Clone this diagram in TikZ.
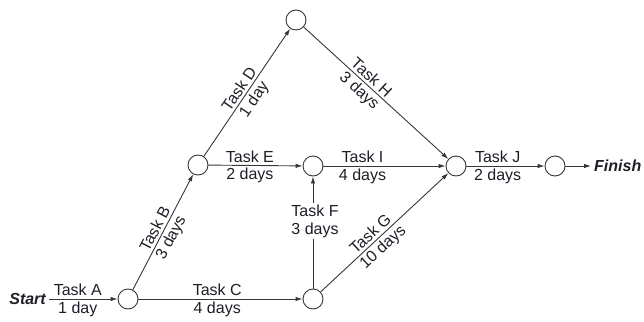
\documentclass[tikz,border=0pt]{standalone}
\usepackage{fontspec}
\setmainfont{Liberation Sans}
\usetikzlibrary{arrows.meta}
\definecolor{linec}{RGB}{55,55,58}
\definecolor{textc}{RGB}{30,30,40}
\begin{document}
\begin{tikzpicture}[x=1pt,y=-1pt,
  every node/.style={text=textc,font=\fontsize{16}{18}\selectfont},
  ev/.style={circle,draw=linec,fill=white,minimum size=20pt,inner sep=0pt,line width=0.9pt},
  arr/.style={draw=linec,line width=0.9pt,-{Latex[length=7pt,width=4.5pt]}},
  up/.style={above,inner sep=2.5pt},
  dn/.style={below,inner sep=2.5pt},
  endlab/.style={font=\fontsize{16}{18}\selectfont\bfseries\itshape,inner sep=3pt}]
\useasboundingbox (0,0) rectangle (644,321);
\node[ev] (n1) at (128,299) {};
\node[ev] (n2) at (198,165) {};
\node[ev] (n3) at (296,20) {};
\node[ev] (n4) at (313,166) {};
\node[ev] (n5) at (456,166) {};
\node[ev] (n6) at (313,299) {};
\node[ev] (n7) at (555,166) {};
\node[endlab,anchor=east] (st) at (49,299) {Start};
\node[endlab,anchor=west] (fin) at (591,166) {Finish};
\draw[arr] (st) -- (n1) node[up,pos=0.42]{Task A} node[dn,pos=0.42]{1 day};
\draw[arr] (n1) -- (n6) node[up,pos=0.48]{Task C} node[dn,pos=0.48]{4 days};
\draw[arr] (n1) -- (n2) node[up,sloped,pos=0.49]{Task B} node[dn,sloped,pos=0.49]{3 days};
\draw[arr] (n2) -- (n3) node[up,sloped,pos=0.49]{Task D} node[dn,sloped,pos=0.49]{1 day};
\draw[arr] (n3) -- (n5) node[up,sloped,pos=0.43]{Task H} node[dn,sloped,pos=0.43]{3 days};
\draw[arr] (n6) -- (n5) node[up,sloped,pos=0.435]{Task G} node[dn,sloped,pos=0.435]{10 days};
\draw[arr] (n2) -- (n4) node[up,pos=0.44]{Task E} node[dn,pos=0.44]{2 days};
\draw[arr] (n4) -- (n5) node[up,pos=0.32]{Task I} node[dn,pos=0.32]{4 days};
\draw[arr] (n5) -- (n7) node[up,pos=0.4]{Task J} node[dn,pos=0.4]{2 days};
\draw[arr] (n6) -- (n4);
\node[fill=white,align=center,inner sep=2pt] (lf) at (315,221) {Task F\\3 days};
\draw[arr] (n7) -- (fin);
\end{tikzpicture}
\end{document}
